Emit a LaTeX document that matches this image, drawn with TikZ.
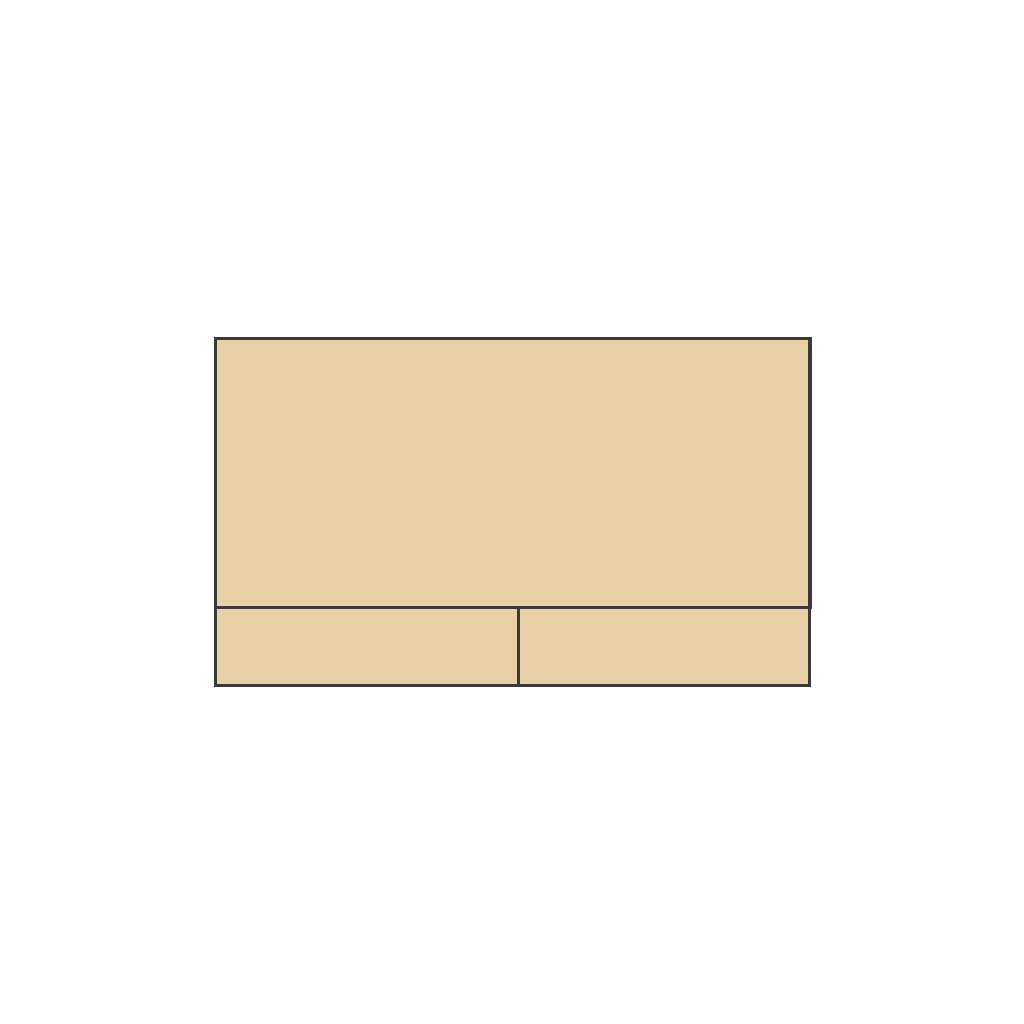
\documentclass[tikz,border=0pt]{standalone}
\definecolor{panelfill}{HTML}{E8CFA5}
\definecolor{panelline}{HTML}{3A3A3A}
\begin{document}
\begin{tikzpicture}[x=0.01cm,y=-0.01cm,
  panel/.style={draw=panelline, fill=panelfill, line width=0.9pt, inner sep=0pt, minimum width=0, minimum height=0}]
\useasboundingbox[fill=white] (0,0) rectangle (1024,1024);
\node[panel, anchor=north west, minimum width=5.94cm, minimum height=2.69cm] (top) at (214,337) {};
\node[panel, anchor=north west, minimum width=3.03cm, minimum height=0.78cm] (bl) at (214,606) {};
\node[panel, anchor=north west, minimum width=2.91cm, minimum height=0.78cm] (br) at (517,606) {};
\end{tikzpicture}
\end{document}
